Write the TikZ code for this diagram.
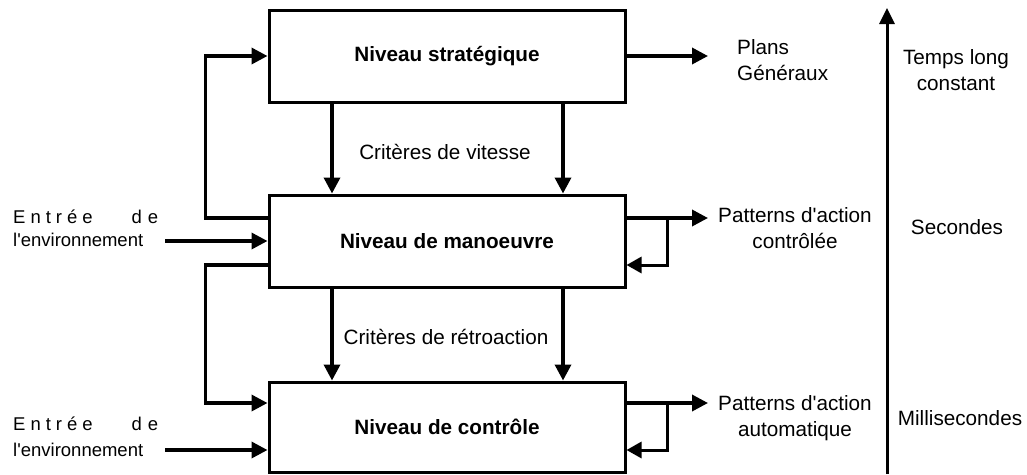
\documentclass[tikz,border=0pt]{standalone}
\usepackage{fontspec}
\setmainfont{Liberation Sans}
\usetikzlibrary{arrows.meta}
\begin{document}
\begin{tikzpicture}[x=1pt,y=-1pt,
  levelbox/.style={draw, line width=3pt, minimum width=356pt, minimum height=92pt,
    inner sep=0pt, font=\bfseries\fontsize{20.7}{25}\selectfont},
  lbl/.style={inner sep=0pt, align=center, font=\fontsize{20.7}{26}\selectfont},
  envlbl/.style={inner sep=0pt, align=left, anchor=west, font=\fontsize{18.5}{23}\selectfont},
  arr/.style={line width=3.5pt, -{Triangle[width=16pt,length=16pt]}},
  fbarr/.style={line width=3pt, -{Triangle[width=16pt,length=15pt]}}]
\useasboundingbox (0,0) rectangle (1027,474);

% the three levels
\node[levelbox] (top) at (447,56) {Niveau stratégique};
\node[levelbox] (mid) at (447,241) {Niveau de manoeuvre};
\node[levelbox, minimum height=90pt] (bot) at (447,427) {Niveau de contrôle};

% criteria between the levels
\coordinate (cL) at (332,0);
\coordinate (cR) at (563,0);
\draw[arr] (top.south -| cL) -- (mid.north -| cL);
\draw[arr] (top.south -| cR) -- (mid.north -| cR);
\draw[arr] (mid.south -| cL) -- (bot.north -| cL);
\draw[arr] (mid.south -| cR) -- (bot.north -| cR);
\node[lbl] (crit1) at (445,152) {Critères de vitesse};
\node[lbl] (crit2) at (446,337) {Critères de rétroaction};

% feedback loops on the left
\draw[arr] ([yshift=23pt]mid.west) -| ([xshift=-62pt]top.west) -- (top.west);
\draw[arr] ([yshift=-24pt]mid.west) -| ([xshift=-62pt,yshift=24pt]bot.west) -- ([yshift=24pt]bot.west);

% inputs from the environment
\coordinate (env1) at (165,241);
\coordinate (env2) at (165,450);
\draw[arr] (env1) -- (mid.west);
\draw[arr] (env2) -- (bot.west |- env2);
\node[envlbl] (e1a) at (13,217) {\makebox[145pt][l]{E\hspace{5pt}n\hspace{5pt}t\hspace{5pt}r\hspace{5pt}é\hspace{5pt}e\hfill d\hspace{6pt}e}};
\node[envlbl] (e1b) at (13,240) {l\textquotesingle environnement};
\node[envlbl] (e2a) at (13,424) {\makebox[145pt][l]{E\hspace{5pt}n\hspace{5pt}t\hspace{5pt}r\hspace{5pt}é\hspace{5pt}e\hfill d\hspace{6pt}e}};
\node[envlbl] (e2b) at (13,450) {l\textquotesingle environnement};

% outputs on the right
\coordinate (o1) at (708,56);
\coordinate (o2) at (708,218);
\coordinate (o3) at (708,403);
\coordinate (f2) at (667,0);
\draw[arr] (top.east) -- (o1);
\draw[arr] (mid.east |- o2) -- (o2);
\draw[fbarr] (f2 |- o2) -- (f2 |- 0,265) -- ([yshift=-24pt]mid.east);
\draw[arr] (bot.east |- o3) -- (o3);
\draw[fbarr] (f2 |- o3) -- (f2 |- 0,450) -- ([yshift=-23pt]bot.east);

\node[lbl, align=left, anchor=west] (plans) at (737,60) {Plans\\Généraux};
\node[lbl] (pat1) at (795,228) {Patterns d\textquotesingle action\\contrôlée};
\node[lbl] (pat2) at (795,418) {Patterns d\textquotesingle action\\automatique};

% time scale
\coordinate (tb) at (887,474);
\coordinate (tt) at (887,8);
\draw[line width=3pt, -{Triangle[width=15pt,length=16pt]}] (tb) -- (tt);
\node[lbl] (t1) at (956,70) {Temps long\\constant};
\node[lbl] (t2) at (957,227) {Secondes};
\node[lbl] (t3) at (960,418) {Millisecondes};
\end{tikzpicture}
\end{document}
